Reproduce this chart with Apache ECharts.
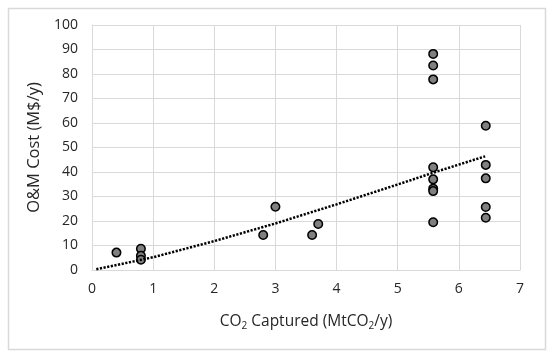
<!DOCTYPE html>
<html>
<head>
<meta charset="utf-8">
<script src="https://cdn.jsdelivr.net/npm/echarts@6/dist/echarts.min.js"></script>
<style>
html,body{margin:0;padding:0;background:#fff;}
#chart{width:550px;height:353px;}
</style>
</head>
<body>
<div id="chart"></div>
<script>
// Data
var captured = [0.4, 0.8, 0.8, 0.8, 2.8, 3.0, 3.6, 3.7,
  5.58, 5.58, 5.58, 5.58, 5.58, 5.58, 5.58, 5.58,
  6.44, 6.44, 6.44, 6.44, 6.44];
var omCost = [7.1, 8.7, 5.8, 4.2, 14.3, 25.8, 14.3, 18.8,
  88.2, 83.5, 77.8, 41.9, 37.0, 33.2, 32.2, 19.5,
  58.9, 42.9, 37.4, 25.7, 21.3];
// trend line points
var trendX = [0.07, 1, 2, 3, 4, 5, 5.64, 6.43];
var trendY = [0.3, 5.2, 11.8, 19.0, 26.8, 34.9, 40.2, 46.4];
var xTicks = [0, 1, 2, 3, 4, 5, 6, 7];
var yTicks = [0, 10, 20, 30, 40, 50, 60, 70, 80, 90, 100];

var pts = captured.map(function (x, i) { return [x, omCost[i]]; });
var trend = trendX.map(function (x, i) { return [x, trendY[i]]; });

var font = 'Open Sans';
var txt = '#262626';
var chart = echarts.init(document.getElementById('chart'), null, {renderer: 'canvas'});
chart.setOption({
  animation: false,
  backgroundColor: '#ffffff',
  graphic: [{
    type: 'rect', left: 6, top: 6,
    shape: {width: 537, height: 341},
    style: {fill: 'none', stroke: '#d9d9d9', lineWidth: 1.5},
    silent: true
  }],
  grid: {left: 92, right: 30, top: 25, bottom: 83},
  xAxis: {
    type: 'value', min: xTicks[0], max: xTicks[xTicks.length - 1], interval: 1,
    axisLine: {show: true, lineStyle: {color: '#d9d9d9', width: 1}},
    axisTick: {show: false},
    splitLine: {show: true, lineStyle: {color: '#d9d9d9', width: 1}},
    axisLabel: {color: txt, fontFamily: font, fontSize: 14, margin: 12},
    name: '{n|CO}{s|2}{n| Captured (MtCO}{s|2}{n|/y)}',
    nameLocation: 'middle', nameGap: 42,
    nameTextStyle: {
      color: txt, fontFamily: font, fontSize: 15.5,
      rich: {
        n: {color: txt, fontFamily: font, fontSize: 15.5, lineHeight: 20},
        s: {color: txt, fontFamily: font, fontSize: 10, lineHeight: 20, padding: [9, 0, 0, 0]}
      }
    }
  },
  yAxis: {
    type: 'value', min: yTicks[0], max: yTicks[yTicks.length - 1], interval: 10,
    axisLine: {show: true, lineStyle: {color: '#d9d9d9', width: 1}},
    axisTick: {show: false},
    splitLine: {show: true, lineStyle: {color: '#d9d9d9', width: 1}},
    axisLabel: {color: txt, fontFamily: font, fontSize: 14, margin: 14},
    name: 'O&M Cost (M$/y)',
    nameLocation: 'middle', nameGap: 43, nameRotate: 90,
    nameTextStyle: {color: txt, fontFamily: font, fontSize: 16.5}
  },
  series: [{
    type: 'line', data: trend, smooth: false, showSymbol: false, symbol: 'none',
    lineStyle: {color: '#000000', width: 2.5, type: [2.2, 1.5]},
    z: 3, silent: true
  }, {
    type: 'scatter', data: pts, symbol: 'circle', symbolSize: 8.5,
    itemStyle: {color: '#808080', borderColor: '#000000', borderWidth: 1.5, opacity: 1},
    z: 2
  }]
});
</script>
</body>
</html>
